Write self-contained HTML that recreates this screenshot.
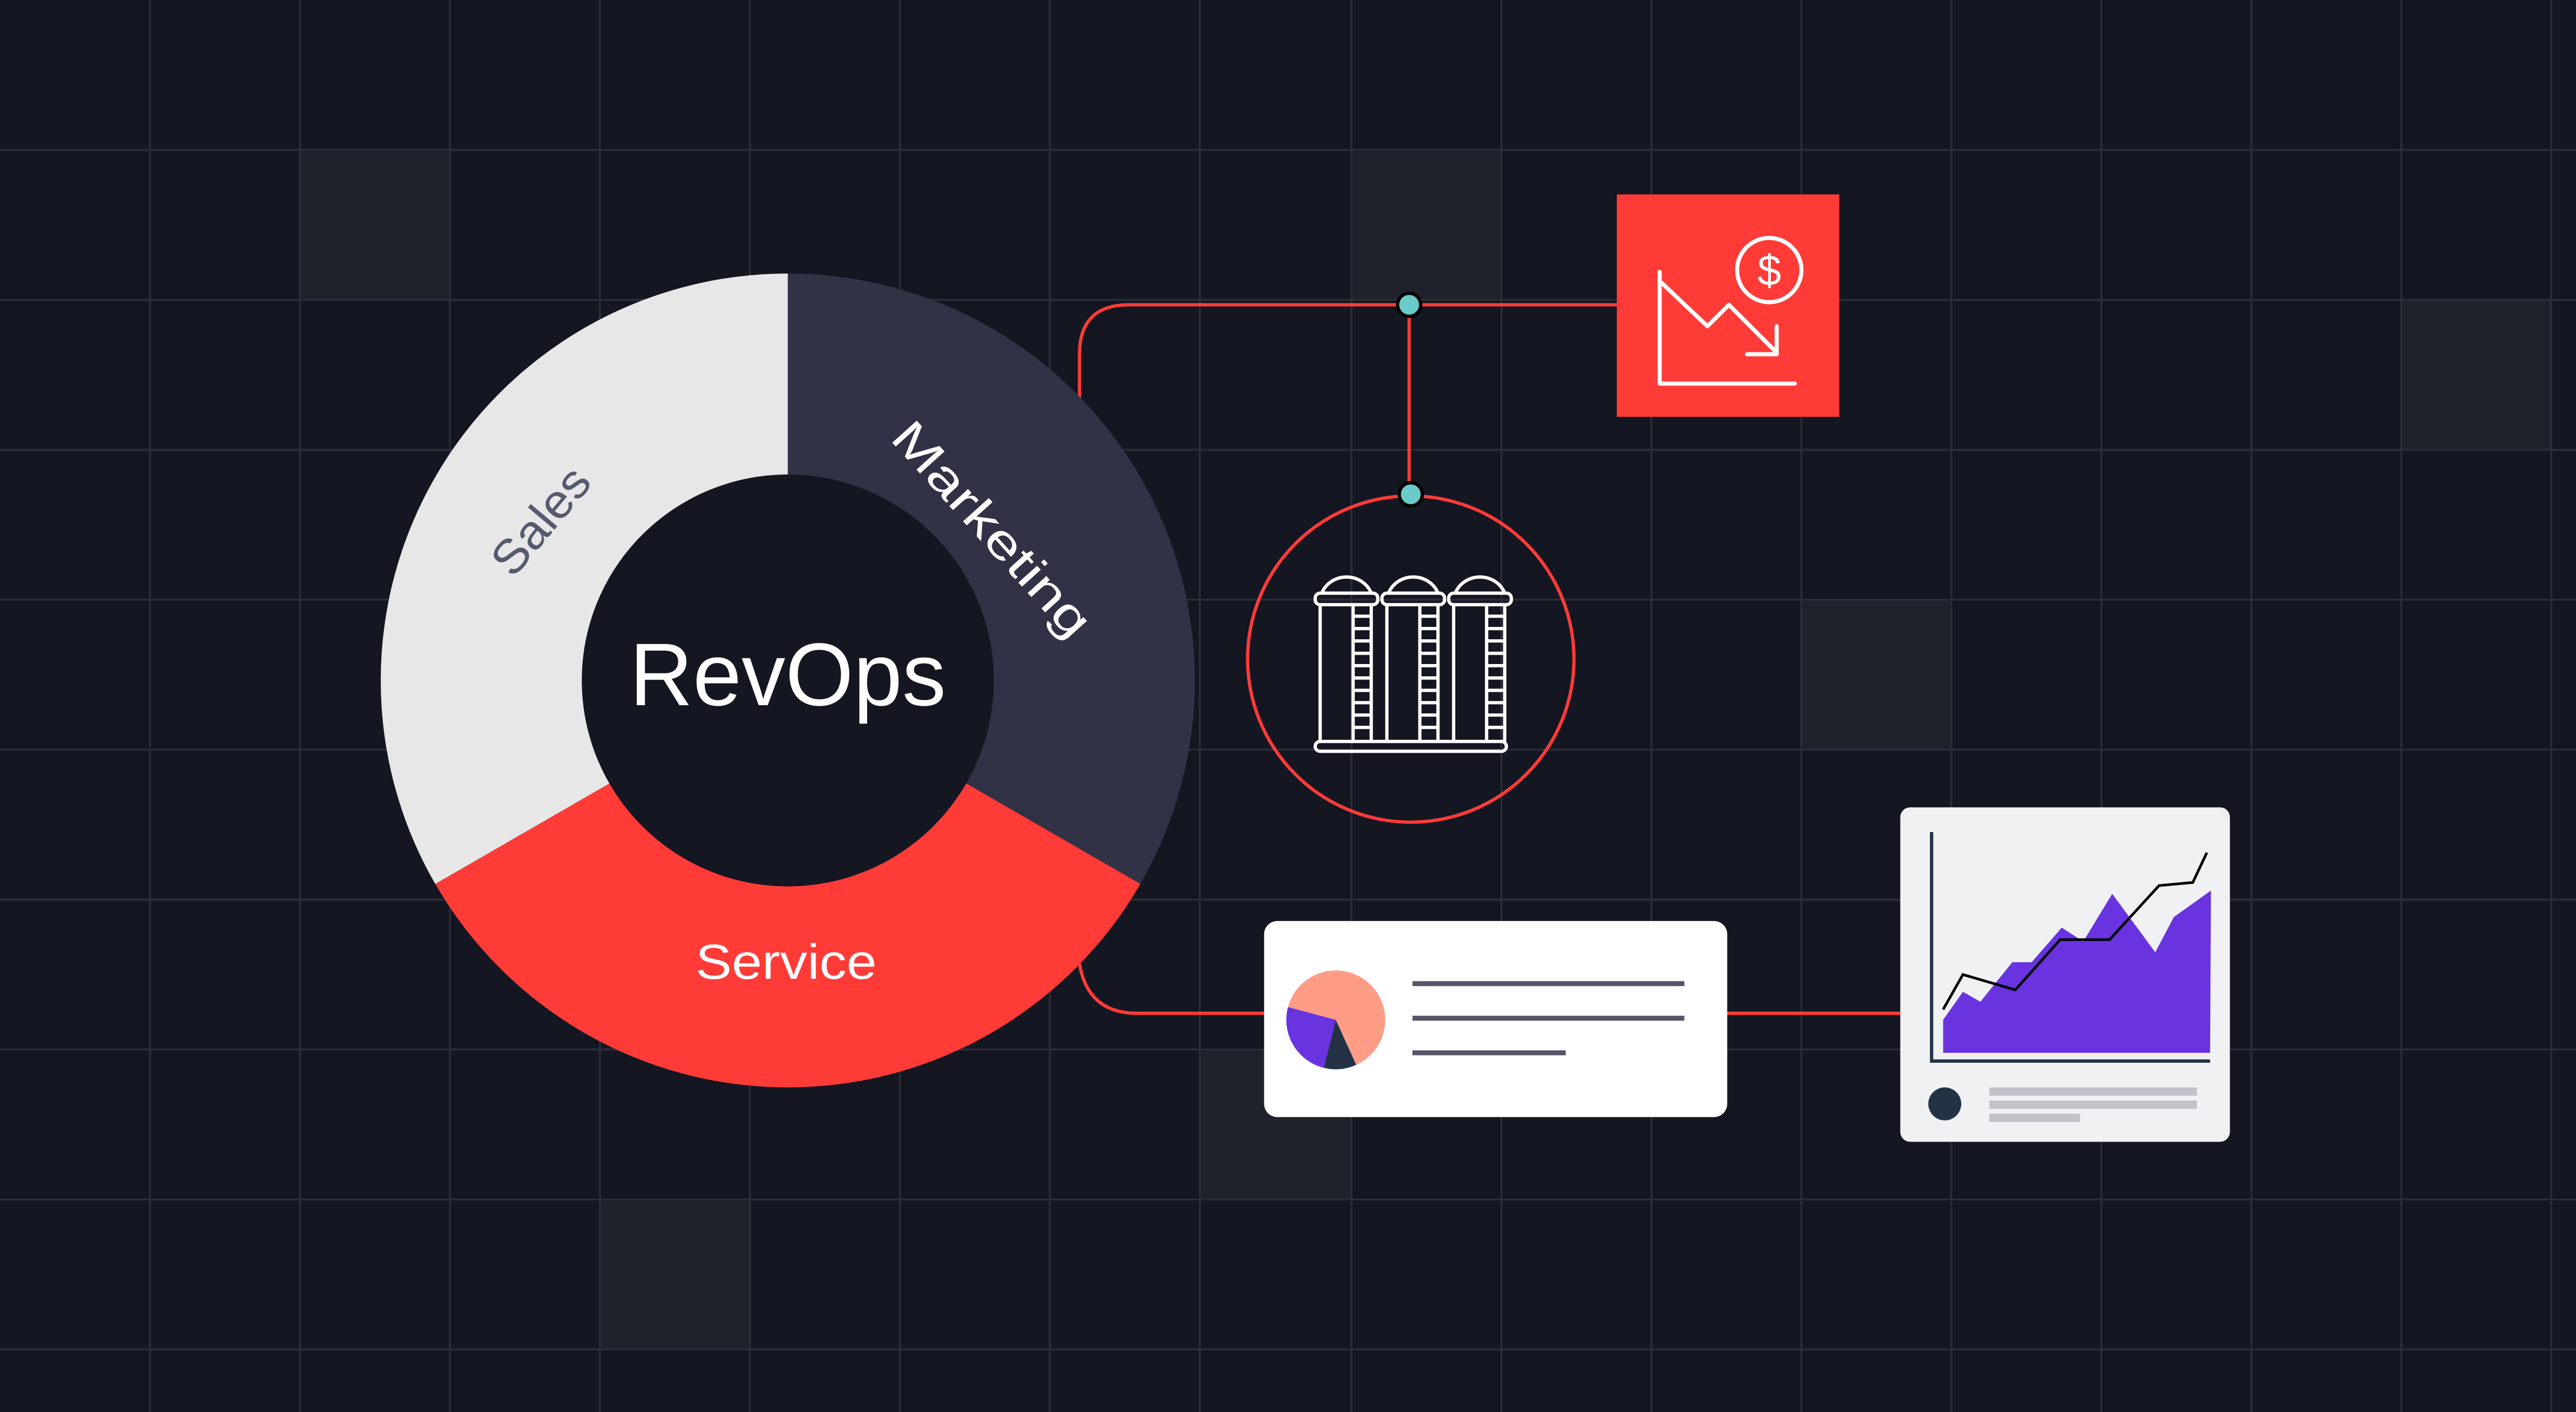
<!DOCTYPE html>
<html><head><meta charset="utf-8"><style>html,body{margin:0;padding:0;background:#141621}svg{display:block}</style></head>
<body>
<svg xmlns="http://www.w3.org/2000/svg" width="5016" height="2741" viewBox="0 0 1568 857" preserveAspectRatio="none">
<rect width="1568" height="857" fill="#141621"/>
<g fill="#1f222b">
<rect x="182" y="91" width="91" height="91"/>
<rect x="820" y="91" width="91" height="91"/>
<rect x="1457" y="182" width="91" height="91"/>
<rect x="1093" y="364" width="91" height="91"/>
<rect x="728" y="637" width="92" height="91"/>
<rect x="364" y="728" width="91" height="91"/>
</g>
<g stroke="#2a2d39" stroke-width="1.2">
<path d="M91 0V857M182 0V857M273 0V857M364 0V857M455 0V857M546 0V857M637 0V857M728 0V857M820 0V857M911 0V857M1002 0V857M1093 0V857M1184 0V857M1275 0V857M1366 0V857M1457 0V857M1548 0V857"/>
<path d="M0 91H1568M0 182H1568M0 273H1568M0 364H1568M0 455H1568M0 546H1568M0 637H1568M0 728H1568M0 819H1568"/>
</g>
<!-- connectors -->
<g fill="none" stroke="#ff3b38" stroke-width="2">
<path d="M655 242V215Q655 185 685 185H981"/>
<path d="M855 185V300"/>
<circle cx="856" cy="400" r="99"/>
<path d="M655 585Q660 615 690 615H767"/>
<path d="M1048 615H1153"/>
</g>
<!-- donut -->
<path d="M478 413L478 166A247 247 0 0 1 691.9 536.5Z" fill="#313246"/>
<path d="M478 413L691.9 536.5A247 247 0 0 1 264.1 536.5Z" fill="#ff3b38"/>
<path d="M478 413L264.1 536.5A247 247 0 0 1 478 166Z" fill="#e7e7e7"/>
<circle cx="478" cy="413" r="125" fill="#141621"/>
<text x="478" y="428" text-anchor="middle" font-family="Liberation Sans, sans-serif" font-size="54" fill="#fff" textLength="192" lengthAdjust="spacingAndGlyphs">RevOps</text>
<text x="477" y="594" text-anchor="middle" font-family="Liberation Sans, sans-serif" font-size="30" fill="#fff" textLength="110" lengthAdjust="spacingAndGlyphs">Service</text>
<text transform="translate(602 321) rotate(48)" text-anchor="middle" y="10" font-family="Liberation Sans, sans-serif" font-size="29" fill="#fff" textLength="165" lengthAdjust="spacingAndGlyphs">Marketing</text>
<text transform="translate(328 316) rotate(-50)" text-anchor="middle" y="10" font-family="Liberation Sans, sans-serif" font-size="29" fill="#555a6e" textLength="76" lengthAdjust="spacingAndGlyphs">Sales</text>
<!-- nodes -->
<circle cx="855" cy="185" r="7" fill="#6bcbca" stroke="#000" stroke-width="2"/>
<circle cx="856" cy="300" r="7" fill="#6bcbca" stroke="#000" stroke-width="2"/>
<!-- red square -->
<rect x="981" y="118" width="135" height="135" fill="#ff3b38"/>
<g fill="none" stroke="#fff" stroke-width="2.5" stroke-linecap="round" stroke-linejoin="round">
<path d="M1007 165V232.8H1089"/>
<path d="M1008 171.5L1036 198L1049 185L1077 213"/>
<path d="M1078 198V215H1060"/>
<circle cx="1073.5" cy="163.9" r="19.5"/>
</g>
<text x="1073.5" y="173" text-anchor="middle" font-family="Liberation Sans, sans-serif" font-size="26" fill="#fff">$</text>
<!-- silos -->
<g fill="none" stroke="#fff" stroke-width="2">
<g id="s">
<path d="M802 360A16 15 0 0 1 832 360"/>
<rect x="798" y="360" width="38" height="7" rx="3"/>
<path d="M801 367V450M832 367V450M821 367V450"/>
<path d="M821 374H832M821 381.5H832M821 389H832M821 396.5H832M821 404H832M821 411.5H832M821 419H832M821 426.5H832M821 434H832M821 441.5H832"/>
</g>
<use href="#s" x="40.5"/>
<use href="#s" x="81"/>
<rect x="798" y="450" width="116" height="6" rx="3"/>
</g>
<!-- white card -->
<rect x="767" y="559" width="281" height="119" rx="8" fill="#fff"/>
<path d="M810.5 619L781.5 611.2A30 30 0 1 1 822.9 646.3Z" fill="#ff9c86"/>
<path d="M810.5 619L822.9 646.3A30 30 0 0 1 803.2 648.1Z" fill="#233345"/>
<path d="M810.5 619L803.2 648.1A30 30 0 0 1 781.5 611.2Z" fill="#6a33e0"/>
<g stroke="#555569" stroke-width="3"><path d="M857 597H1022M857 618H1022M857 639H950"/></g>
<!-- chart card -->
<rect x="1153" y="490" width="200" height="203" rx="6" fill="#f0f1f3"/>
<path d="M1179 639L1179 619L1191 602L1201.6 608L1221 584L1232.7 584L1251 563L1264 571.5L1281.6 542.5L1307.7 578L1319 556.6L1341.5 540.5L1341 639Z" fill="#6a33e0"/>
<path d="M1172 505V644H1341" fill="none" stroke="#233345" stroke-width="2"/>
<path d="M1179 612.7L1191 591.5L1222.8 600.8L1250 570.3L1280 570.3L1310 537.5L1330.5 535.6L1339 517.5" fill="none" stroke="#000" stroke-width="1.6"/>
<circle cx="1180" cy="670" r="10" fill="#233345"/>
<g fill="#c0c3c9"><rect x="1207" y="660" width="126" height="5"/><rect x="1207" y="668" width="126" height="5"/><rect x="1207" y="676" width="55" height="5"/></g>
</svg>
</body></html>
